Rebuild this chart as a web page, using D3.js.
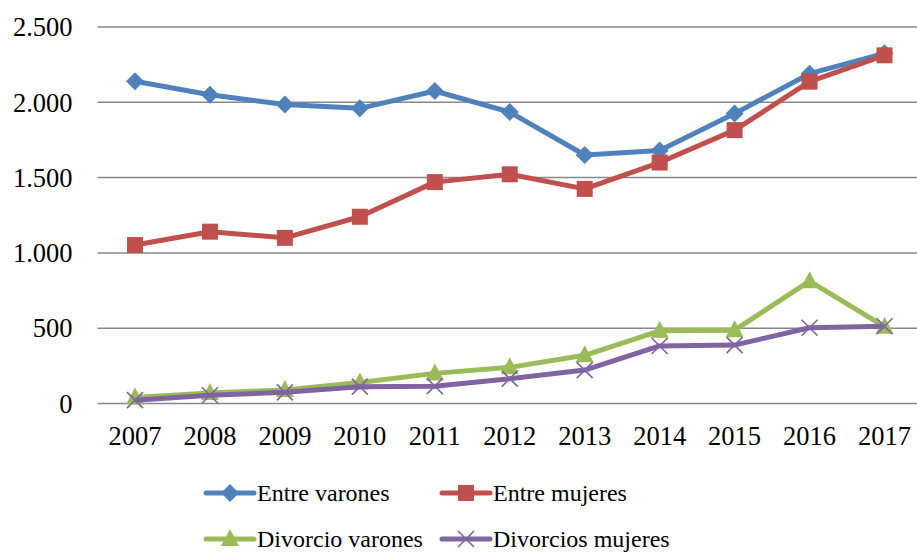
<!DOCTYPE html>
<html>
<head>
<meta charset="utf-8">
<script src="https://cdn.jsdelivr.net/npm/d3@7"></script>
<style>
  body { margin: 0; background: #fff; }
</style>
</head>
<body>
<div id="chart"></div>
<script>
// ==============================
// Data
// ==============================
var years = ["2007", "2008", "2009", "2010", "2011", "2012", "2013", "2014", "2015", "2016", "2017"];
var entreVarones = [2140, 2050, 1985, 1960, 2075, 1935, 1650, 1680, 1925, 2190, 2325];
var entreMujeres = [1052, 1141, 1100, 1240, 1470, 1522, 1425, 1600, 1815, 2137, 2312];
var divorcioVarones = [40, 70, 90, 140, 200, 240, 320, 483, 487, 812, 510];
var divorciosMujeres = [22, 55, 74, 112, 115, 165, 222, 382, 388, 503, 513];
var yTicks = [0, 500, 1000, 1500, 2000, 2500];

var series = [
  { name: "Entre varones", values: entreVarones, color: "#4F81BD", marker: "diamond" },
  { name: "Entre mujeres", values: entreMujeres, color: "#C0504D", marker: "square" },
  { name: "Divorcio varones", values: divorcioVarones, color: "#9BBB59", marker: "triangle" },
  { name: "Divorcios mujeres", values: divorciosMujeres, color: "#8064A2", marker: "cross" }
];

var FONT = "Times New Roman, Liberation Serif, serif";

// ==============================
// Chart params
// ==============================
var svgWidth = 917, svgHeight = 553;
var margin = { top: 27, left: 97.5, right: -5, bottom: 150 };
var chartWidth = svgWidth - margin.left - margin.right;
var chartHeight = 403.5 - margin.top;

var svg = d3.select("#chart").append("svg")
  .attr("width", svgWidth)
  .attr("height", svgHeight)
  .attr("font-family", FONT);

var chartGroup = svg.append("g")
  .attr("transform", `translate(${margin.left}, ${margin.top})`);

var xScale = d3.scaleBand().domain(years).range([0, chartWidth]);
var yScale = d3.scaleLinear().domain([0, 2500]).range([chartHeight, 0]);
var fmt = function(d) { return d3.format(",")(d).replace(/,/g, "."); };

// gridlines
chartGroup.append("g").selectAll("line")
  .data(yTicks)
  .enter().append("line")
  .attr("x1", 0).attr("x2", chartWidth)
  .attr("y1", d => yScale(d)).attr("y2", d => yScale(d))
  .attr("stroke", "#888").attr("stroke-width", 1.5);

// y axis labels
var leftAxis = d3.axisLeft(yScale).tickValues(yTicks).tickFormat(fmt).tickSize(0).tickPadding(25);
var yAxisG = chartGroup.append("g").call(leftAxis)
  .attr("font-family", FONT).attr("font-size", 26.5);
yAxisG.select(".domain").remove();
yAxisG.selectAll("text")
  .attr("fill", "#000")
  .attr("dy", "0.33em");

// x axis labels
var bottomAxis = d3.axisBottom(xScale).tickSize(0).tickPadding(23);
var xAxisG = chartGroup.append("g")
  .attr("transform", `translate(0, ${chartHeight})`)
  .call(bottomAxis)
  .attr("font-family", FONT).attr("font-size", 26.5);
xAxisG.select(".domain").remove();
xAxisG.selectAll("text").attr("fill", "#000");

// ==============================
// Marker drawing
// ==============================
function drawMarker(g, type, color) {
  if (type === "diamond") {
    g.append("path").attr("d", "M0,-9L9,0L0,9L-9,0Z").attr("fill", color);
  } else if (type === "square") {
    g.append("rect").attr("x", -8).attr("y", -8).attr("width", 16).attr("height", 16).attr("fill", color);
  } else if (type === "triangle") {
    g.append("path").attr("d", "M0,-10L9,7L-9,7Z").attr("fill", color);
  } else if (type === "cross") {
    g.append("path").attr("d", "M-8,-8L8,8M-8,8L8,-8").attr("stroke", color).attr("stroke-width", 1.6).attr("fill", "none");
  }
}

var line = d3.line()
  .x((d, i) => xScale(years[i]) + xScale.bandwidth() / 2)
  .y(d => yScale(d));

series.forEach(function(s) {
  chartGroup.append("path")
    .datum(s.values)
    .attr("d", line)
    .attr("fill", "none")
    .attr("stroke", s.color)
    .attr("stroke-width", 5)
    .attr("stroke-linejoin", "round");

  s.values.forEach(function(v, i) {
    var g = chartGroup.append("g")
      .attr("transform", `translate(${xScale(years[i]) + xScale.bandwidth() / 2}, ${yScale(v)})`);
    drawMarker(g, s.marker, s.color);
  });
});

// ==============================
// Legend
// ==============================
var legendPos = [[206, 493], [442, 493], [206, 539], [442, 539]];
series.forEach(function(s, i) {
  var lg = svg.append("g").attr("transform", `translate(${legendPos[i][0]}, ${legendPos[i][1]})`);
  lg.append("line").attr("x1", 0).attr("x2", 48).attr("y1", 0).attr("y2", 0)
    .attr("stroke", s.color).attr("stroke-width", 5).attr("stroke-linecap", "round");
  var mg = lg.append("g").attr("transform", "translate(24,0)");
  drawMarker(mg, s.marker, s.color);
  lg.append("text").attr("x", 51).attr("y", 0).attr("dy", "0.33em")
    .attr("font-size", 24).attr("fill", "#000")
    .text(s.name);
});
</script>
</body>
</html>
